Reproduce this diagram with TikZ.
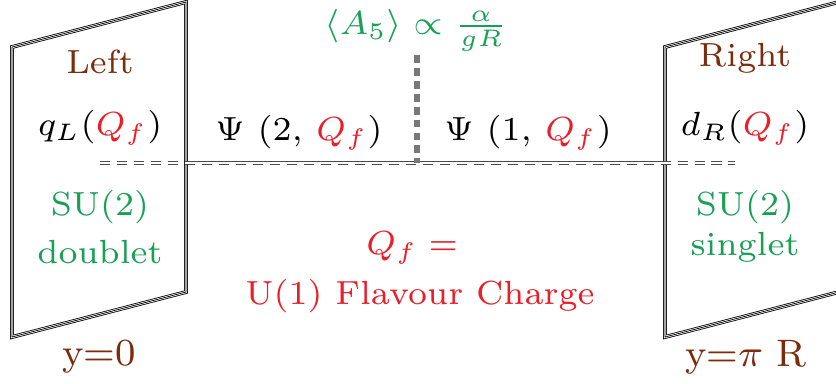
\documentclass[tikz,border=0pt]{standalone}
\usepackage{xcolor}
\definecolor{bred}{RGB}{234,30,40}
\definecolor{bgreen}{RGB}{24,160,84}
\definecolor{bbrown}{RGB}{122,44,12}
\definecolor{lgray}{RGB}{75,75,75}
\definecolor{vgray}{RGB}{120,120,120}
\begin{document}
\begin{tikzpicture}[x=0.209pt,y=-0.209pt,
  txt/.style={inner sep=0pt, font=\fontsize{7}{8.4}\selectfont},
  big/.style={inner sep=0pt, font=\fontsize{8}{9.6}\selectfont},
  brane/.style={line width=0.8pt, line join=miter},
  branew/.style={line width=0.46pt, draw=white, line join=miter},
  branec/.style={line width=0.15pt, line join=miter},
  bulk/.style={draw=lgray, line width=0.85pt, dash pattern=on 2.1pt off 1.45pt},
  bulkw/.style={draw=white, line width=0.25pt, dash pattern=on 2.1pt off 1.45pt},
  wilson/.style={draw=vgray, line width=1.05pt, dash pattern=on 1.65pt off 1.05pt}]
\useasboundingbox (0,0) rectangle (836,383);
% branes
\coordinate (L1) at (12,47); \coordinate (L2) at (186,2);
\coordinate (L3) at (186,292); \coordinate (L4) at (12,337);
\coordinate (R1) at (665,47); \coordinate (R2) at (839,2);
\coordinate (R3) at (839,292); \coordinate (R4) at (665,337);
\foreach \s in {brane,branew,branec}{
  \draw[\s] (L1) -- (L2) -- (L3) -- (L4) -- cycle;
  \draw[\s] (R1) -- (R2) -- (R3) -- (R4) -- cycle;
}
% bulk line
\coordinate (hl) at (100,163); \coordinate (hr) at (735,163);
\coordinate (bl) at (186,161.4); \coordinate (br) at (665,161.4);
\draw[bulk] (hl) -- (hr);
\draw[bulkw] (hl) -- (hr);
\draw[draw=lgray, line width=0.2pt] (bl) -- (br);
% wilson line
\coordinate (wt) at (417,55); \coordinate (wb) at (417,163);
\draw[wilson] (wt) -- (wb);
% texts
\node[txt, text=bbrown] (left) at (100,62) {Left};
\node[txt] (qL) at (100,128) {$q_L(\textcolor{bred}{Q_f})$};
\node[txt, text=bgreen] (su2l) at (100,207) {SU(2)};
\node[txt, text=bgreen] (dbl) at (100,252) {doublet};
\node[big, text=bbrown] (y0) at (99,357) {y=0};
\node[txt, text=bbrown] (right) at (745,58) {Right};
\node[txt] (dR) at (745,128) {$d_R(\textcolor{bred}{Q_f})$};
\node[txt, text=bgreen] (su2r) at (745,207) {SU(2)};
\node[txt, text=bgreen] (sgl) at (745,247) {singlet};
\node[big, text=bbrown] (ypi) at (746,357) {y=$\pi$ R};
\node[txt] (psi2) at (299,133) {$\Psi\ (2,\,\textcolor{bred}{Q_f})$};
\node[txt] (psi1) at (528,133) {$\Psi\ (1,\,\textcolor{bred}{Q_f})$};
\node[txt, text=bgreen] (a5) at (416,30) {$\langle A_5\rangle\propto\frac{\alpha}{gR}$};
\node[txt, text=bred] (qf) at (412,248) {$Q_f=$};
\node[txt, text=bred] (u1) at (420,296) {U(1) Flavour Charge};
\end{tikzpicture}
\end{document}
